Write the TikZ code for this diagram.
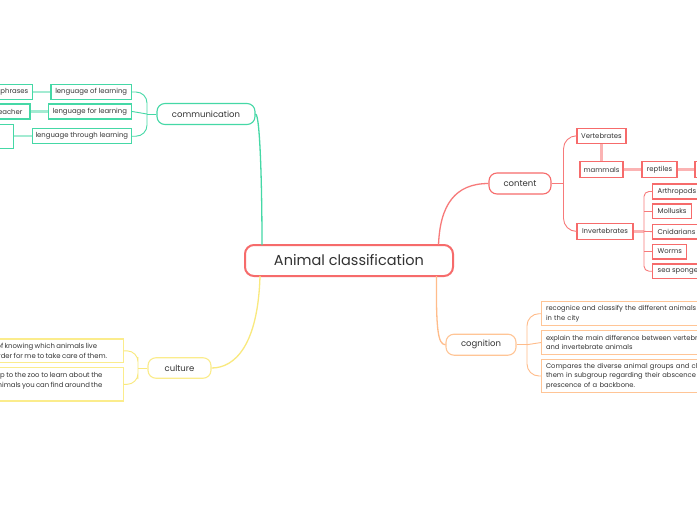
\documentclass[tikz,border=0pt]{standalone}
\usepackage{fontspec}
\setmainfont{Poppins}
\usetikzlibrary{calc}
\definecolor{rootred}{HTML}{F66B6B}
\definecolor{redline}{HTML}{F77A7A}
\definecolor{redlight}{HTML}{FBB3B3}
\definecolor{grn}{HTML}{45D8A6}
\definecolor{grnlight}{HTML}{A3EBD2}
\definecolor{yel}{HTML}{FBEC8C}
\definecolor{yelline}{HTML}{F9E97E}
\definecolor{org}{HTML}{FFC596}
\definecolor{orgline}{HTML}{FFBC8A}
\definecolor{txt}{HTML}{333333}
\tikzset{
  rootbox/.style={draw=rootred, line width=2pt, rounded corners=9pt, fill=white, inner sep=0pt,
    text=txt, font=\fontsize{14.5}{17}\selectfont},
  branchbox/.style={line width=1.1pt, rounded corners=8pt, fill=white, inner sep=0pt,
    text=txt, font=\fontsize{8.5}{10}\selectfont},
  leafbox/.style={line width=1.1pt, fill=white, inner sep=0pt, text=txt,
    font=\fontsize{6.9}{9.3}\selectfont},
  ileaf/.style={leafbox, draw=rootred, anchor=west, inner xsep=4.8pt},
  longbox/.style={leafbox, align=left, inner xsep=4.3pt, font=\fontsize{6.75}{9.3}\selectfont},
  linetxt/.style={inner sep=0pt, text=txt, font=\fontsize{6.9}{9.3}\selectfont},
  gthin/.style={draw=grn, line width=0.9pt},
  gthick/.style={draw=grnlight, line width=2.2pt},
  rthin/.style={draw=redline, line width=0.9pt},
  rthick/.style={draw=redlight, line width=2.2pt},
  othin/.style={draw=orgline, line width=0.9pt},
  ythin/.style={draw=yelline, line width=0.9pt},
}
\begin{document}
\begin{tikzpicture}[x=1pt,y=-1pt]
\useasboundingbox (0,0) rectangle (697,520);
\clip (0,0) rectangle (697,520);
\fill[white] (0,0) rectangle (697,520);

% root
\node[rootbox, minimum width=208pt, minimum height=31pt] (root) at (349,260.5) {Animal classification};
\coordinate (rc1) at (262,245);
\coordinate (rc2) at (438.5,245);
\coordinate (rc3) at (436.5,276);
\coordinate (rc4) at (260,276);

% branches
\node[branchbox, draw=grn, minimum width=98pt, minimum height=21pt] (comm) at (206,114) {communication};
\node[branchbox, draw=rootred, minimum width=62pt, minimum height=21pt] (cont) at (520,183.5) {content};
\node[branchbox, draw=org, minimum width=70pt, minimum height=21pt] (cog) at (481,344.7) {cognition};
\node[branchbox, draw=yel, minimum width=63pt, minimum height=20.5pt] (cul) at (179.5,368) {culture};

% root connectors
\draw[draw=grn, line width=1.3pt] (comm.east) .. controls (260,114) and (262,185) .. (rc1);
\draw[draw=redline, line width=1.3pt] (rc2) .. controls (440,205) and (455,183.5) .. (cont.west);
\draw[draw=orgline, line width=1.3pt] (rc3) .. controls (436,330) and (438,344.7) .. (cog.west);
\draw[draw=yelline, line width=1.3pt] (rc4) .. controls (258,345) and (235,368) .. (cul.east);

% communication children
\node[leafbox, draw=grn, minimum width=80.5pt, minimum height=15pt] (lof) at (91.2,92) {lenguage of learning};
\node[leafbox, draw=grn, minimum width=83.5pt, minimum height=15pt] (lfor) at (89.8,111.5) {lenguage for learning};
\node[leafbox, draw=grn, minimum width=99.5pt, minimum height=15pt] (lthr) at (81.8,136.2) {lenguage through learning};
\node[leafbox, draw=grn, minimum width=36.7pt, minimum height=15pt] (phr) at (14.35,92) {phrases};
\node[leafbox, draw=grn, minimum width=70pt, minimum height=15pt] (tea) at (-5,111.5) {};
\node[linetxt, anchor=mid east] (teat) at (22.7,111.5) {teacher};
\node[leafbox, draw=grn, minimum width=53.3pt, minimum height=24pt] (g3) at (-13.35,136.3) {};
\coordinate (cb) at (147,114);
\draw[gthin] (comm.west) -- (cb);
\draw[gthin, rounded corners=11pt] (lof.east) -| (cb) |- (lthr.east);
\draw[gthin] (lfor.east) -- (cb);
\draw[gthick] (phr.east) -- (lof.west);
\draw[gthick] (tea.east) -- (lfor.west);
\draw[gthick] (g3.east |- lthr.west) -- (lthr.west);

% content children
\node[leafbox, draw=rootred, minimum width=49pt, minimum height=15pt] (vert) at (601.5,135.8) {Vertebrates};
\node[leafbox, draw=rootred, minimum width=43pt, minimum height=15.5pt] (mam) at (601.5,169.5) {mammals};
\node[leafbox, draw=rootred, minimum width=35pt, minimum height=15.5pt] (rep) at (659.5,169.5) {reptiles};
\node[leafbox, draw=rootred, minimum width=40pt, minimum height=15.5pt] (nxt) at (715,169.5) {};
\node[leafbox, draw=rootred, minimum width=56pt, minimum height=15.3pt] (inv) at (605,231.4) {Invertebrates};
\coordinate (kb) at (563.5,183.5);
\draw[rthin] (cont.east) -- (kb);
\draw[rthin, rounded corners=13pt] (vert.west) -| (kb) |- (inv.west);
\draw[rthick] (vert.south) -- (mam.north);
\draw[rthick] (mam.east) -- (rep.west);
\draw[rthick] (rep.east) -- (nxt.west);

\node[ileaf, minimum height=15pt] (arth) at (652.3,191.5) {Arthropods};
\node[ileaf, minimum height=14.5pt] (moll) at (652.3,211.2) {Mollusks};
\node[ileaf, minimum height=14.7pt] (cnid) at (652.3,231.6) {Cnidarians};
\node[ileaf, minimum height=14.7pt] (worm) at (652.3,251.6) {Worms};
\node[ileaf, minimum height=14.5pt] (sea) at (652.3,271.2) {sea sponges};
\coordinate (ib) at (644,231.4);
\draw[rthick] (inv.east) -- (ib);
\draw[rthin, rounded corners=5pt] (arth.west) -| (ib) |- (sea.west);
\draw[rthin] (moll.west) -- (moll.west -| ib);
\draw[rthin] (cnid.west) -- (ib);
\draw[rthin] (worm.west) -- (worm.west -| ib);

% cognition children
\node[longbox, draw=org, minimum width=218.3pt, text width=209.7pt, minimum height=24pt] (c1) at (650.85,313.7)
  {recognice and classify the different animals\\in the city};
\node[longbox, draw=org, minimum width=218.3pt, text width=209.7pt, minimum height=23.6pt] (c2) at (650.85,342.5)
  {explain the main difference between vertebrates\\and invertebrate animals};
\node[longbox, draw=org, minimum width=218.3pt, text width=209.7pt, minimum height=33.4pt] (c3) at (650.85,376)
  {Compares the diverse animal groups and classify\\them in subgroup regarding their abscence or\\prescence of a backbone.};
\coordinate (ob) at (527,344.7);
\draw[othin] (cog.east) -- (ob);
\draw[othin, rounded corners=12pt] (c1.west) -| (ob) |- (c3.west);
\draw[othin] (c2.west) -- (ob);

% culture children
\node[leafbox, draw=yel, minimum width=200pt, minimum height=23.7pt] (u1) at (23.3,350.85) {};
\node[leafbox, draw=yel, minimum width=200pt, minimum height=33.3pt] (u2) at (23.3,384.35) {};
\node[linetxt, anchor=mid east] (u1a) at (97.3,346.2) {\makebox[100.5pt][s]{of knowing which animals live}};
\node[linetxt, anchor=mid east] (u1b) at (107.3,355.5) {\makebox[113.3pt][s]{order for me to take care of them.}};
\node[linetxt, anchor=mid east] (u2a) at (102.7,375.2) {\makebox[109.2pt][s]{trip to the zoo to learn about the}};
\node[linetxt, anchor=mid east] (u2b) at (100,384.5) {\makebox[106.8pt][s]{animals you can find around the}};
\coordinate (yb) at (138,368);
\draw[ythin] (cul.west) -- (yb);
\draw[ythin, rounded corners=11pt] (u1.east) -| (yb) |- (u2.east);
\end{tikzpicture}
\end{document}
